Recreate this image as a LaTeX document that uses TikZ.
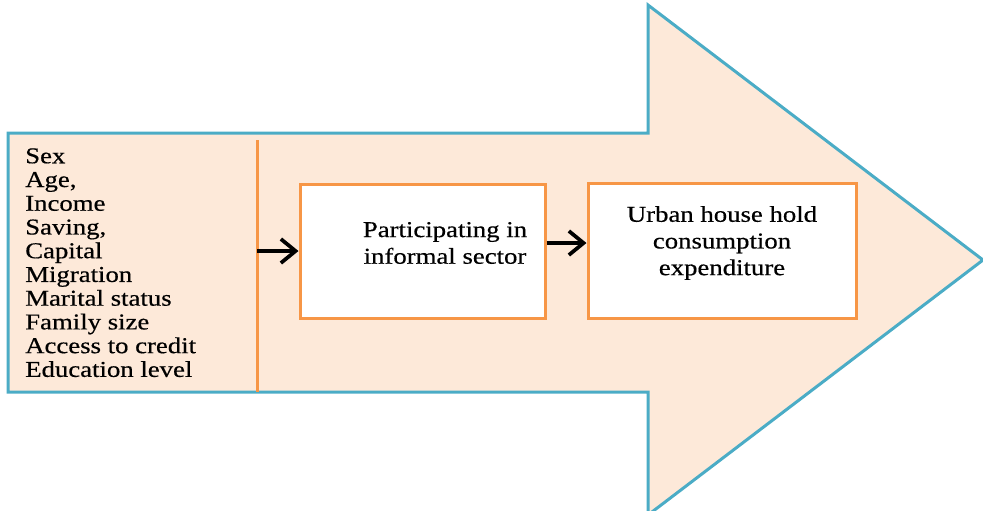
\documentclass[tikz,border=0pt]{standalone}
\usepackage{fontspec}
\setmainfont{Liberation Serif}[FakeStretch=1.18,FakeBold=0.5]
\usetikzlibrary{arrows.meta,positioning}
\definecolor{peach}{HTML}{FDE9D9}
\definecolor{arrowblue}{HTML}{4BACC6}
\definecolor{boxorange}{HTML}{F79646}
\tikzset{
  bigarrow/.style={draw=arrowblue,line width=2.25pt,fill=peach,line join=miter},
  stagebox/.style={rectangle,draw=boxorange,line width=2.25pt,fill=white,inner sep=0pt},
  stagetext/.style={align=center,inner sep=0pt,font=\fontsize{17}{20}\selectfont},
  listtext/.style={align=left,inner sep=0pt,font=\fontsize{17}{17.8}\selectfont},
  divider/.style={draw=boxorange,line width=2.25pt},
  arrow/.style={-{Straight Barb[length=11pt,width=18pt]},line width=2.8pt,draw=black}
}

\begin{document}
\begin{tikzpicture}[x=0.75pt,y=-0.75pt]
  \useasboundingbox (0,0) rectangle (983,511);
  \clip (0,0) rectangle (983,511);
  \draw[bigarrow] (8,133) -- (648,133) -- (648,5) -- (983,260) -- (648,515) -- (648,392) -- (8,392) -- cycle;

  \node[listtext, anchor=north west] (factors) at (25,148) {Sex\\Age,\\Income\\Saving,\\Capital\\Migration\\Marital status\\Family size\\Access to credit\\Education level};
  \coordinate (divtop) at (257,140);
  \coordinate (divbot) at (257,392);
  \draw[divider] (divtop) -- (divbot);

  \node[stagebox, minimum width=183.75pt, minimum height=100.5pt] (part) at (422.5,251) {};
  \node[stagebox, minimum width=201pt, minimum height=101.25pt, right=30pt of part] (cons) {};
  \node[stagetext] (partlbl) at (445,243) {Participating in\\informal sector};
  \node[stagetext] (conslbl) at (cons |- partlbl) {Urban house hold\\consumption\\expenditure};

  \coordinate (split) at (divtop |- part);
  \draw[arrow] (split) -- (part);
  \draw[arrow] (part.east |- partlbl) -- (cons.west |- partlbl);
\end{tikzpicture}
\end{document}
